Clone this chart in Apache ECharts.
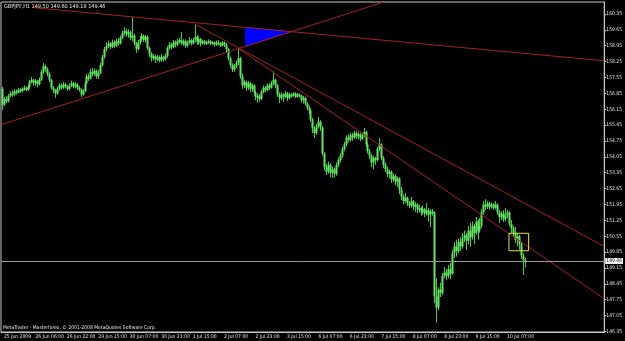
<!DOCTYPE html>
<html>
<head>
<meta charset="utf-8">
<title>GBPJPY,H1</title>
<script src="https://cdn.jsdelivr.net/npm/echarts@6/dist/echarts.min.js"></script>
<style>
  html, body { margin: 0; padding: 0; background: #000; }
  #chart { width: 625px; height: 341px; }
</style>
</head>
<body>
<div id="chart"></div>
<script>
// date labels under the x axis, one every 16 hourly bars
const tickLabels = ['25 Jun 2009', '26 Jun 06:00', '26 Jun 22:00', '29 Jun 15:00', '30 Jun 07:00',
  '30 Jun 23:00', '1 Jul 15:00', '2 Jul 07:00', '2 Jul 23:00', '3 Jul 15:00', '6 Jul 07:00',
  '6 Jul 23:00', '7 Jul 15:00', '8 Jul 07:00', '8 Jul 23:00', '9 Jul 15:00', '10 Jul 07:00']
const labelEvery = 16
const slotCount = 307 // bars + empty shift space on the right

// price scale labels on the right
const priceTicks = [160.35, 159.65, 158.95, 158.25, 157.55, 156.85, 156.15, 155.45, 154.75, 154.05,
  153.35, 152.65, 151.95, 151.25, 150.55, 149.85, 149.15, 148.45, 147.75, 147.05, 146.35]

const opens = [
  157.05, 156.35, 156.60, 156.50, 156.75, 156.85, 156.80, 156.95, 156.88, 157.02,
  156.95, 157.05, 157.10, 157.00, 157.15, 157.35, 157.45, 157.30, 157.40, 157.25,
  157.45, 157.80, 158.05, 157.90, 157.70, 157.45, 157.10, 157.00, 156.85, 157.05,
  157.20, 157.10, 157.25, 157.15, 157.05, 157.20, 157.30, 157.15, 157.25, 157.10,
  157.00, 156.80, 156.95, 157.30, 157.60, 157.50, 157.80, 157.70, 157.85, 157.60,
  157.75, 158.10, 158.45, 158.80, 158.95, 159.05, 158.90, 159.10, 158.95, 159.15,
  159.05, 159.30, 159.50, 159.60, 159.45, 159.55, 159.30, 159.40, 159.05, 158.80,
  159.10, 159.25, 159.40, 159.20, 159.35, 158.85, 158.60, 158.40, 158.50, 158.35,
  158.45, 158.30, 158.45, 158.35, 158.50, 158.85, 159.00, 158.90, 159.10, 159.00,
  159.15, 159.20, 159.05, 159.15, 158.95, 159.10, 159.20, 159.05, 159.20, 159.35,
  159.10, 159.25, 159.05, 159.15, 159.05, 159.10, 159.15, 159.05, 159.10, 159.00,
  159.10, 159.05, 158.95, 159.10, 159.00, 158.80, 158.40, 158.10, 157.90, 158.05,
  158.20, 158.40, 157.60, 157.20, 157.35, 157.10, 157.30, 157.05, 157.20, 156.90,
  156.70, 156.75, 156.60, 156.90, 157.10, 157.00, 157.20, 157.10, 157.30, 157.45,
  157.20, 156.80, 156.65, 156.80, 156.70, 156.85, 156.65, 156.80, 156.75, 156.85,
  156.70, 156.80, 156.75, 156.55, 156.65, 156.40, 156.20, 156.10, 155.70, 155.30,
  155.10, 155.40, 155.60, 155.35, 154.20, 153.60, 153.40, 153.70, 153.35, 153.50,
  153.30, 153.70, 153.90, 154.10, 154.40, 154.60, 154.90, 154.80, 155.00, 154.90,
  155.10, 154.95, 155.05, 154.85, 155.00, 155.15, 154.60, 154.30, 154.10, 153.80,
  154.00, 153.90, 154.40, 154.60, 154.00, 153.70, 153.50, 153.30, 153.40, 153.05,
  153.20, 152.95, 153.10, 152.60, 152.30, 152.10, 152.25, 152.00, 151.90, 152.10,
  151.85, 151.95, 151.75, 151.80, 151.60, 151.75, 151.55, 151.70, 151.50, 151.65,
  151.60, 147.90, 147.40, 148.20, 148.05, 148.80, 148.95, 148.80, 149.10, 148.90,
  149.80, 150.10, 149.90, 150.30, 150.10, 150.45, 150.60, 150.35, 150.80, 150.50,
  151.00, 150.70, 151.20, 150.80, 151.00, 151.60, 151.95, 151.85, 152.00, 151.85,
  151.95, 151.80, 151.95, 151.60, 151.40, 151.55, 151.30, 151.50, 151.60, 151.10,
  150.90, 150.70, 150.40, 150.55, 150.20, 149.70, 149.50
]
const closes = [
  156.35, 156.60, 156.50, 156.75, 156.85, 156.80, 156.95, 156.88, 157.02, 156.95,
  157.05, 157.10, 157.00, 157.15, 157.35, 157.45, 157.30, 157.40, 157.25, 157.45,
  157.80, 158.05, 157.90, 157.70, 157.45, 157.10, 157.00, 156.85, 157.05, 157.20,
  157.10, 157.25, 157.15, 157.05, 157.20, 157.30, 157.15, 157.25, 157.10, 157.00,
  156.80, 156.95, 157.30, 157.60, 157.50, 157.80, 157.70, 157.85, 157.60, 157.75,
  158.10, 158.45, 158.80, 158.95, 159.05, 158.90, 159.10, 158.95, 159.15, 159.05,
  159.30, 159.50, 159.60, 159.45, 159.55, 159.30, 159.40, 159.05, 158.80, 159.10,
  159.25, 159.40, 159.20, 159.35, 158.85, 158.60, 158.40, 158.50, 158.35, 158.45,
  158.30, 158.45, 158.35, 158.50, 158.85, 159.00, 158.90, 159.10, 159.00, 159.15,
  159.20, 159.05, 159.15, 158.95, 159.10, 159.20, 159.05, 159.20, 159.35, 159.10,
  159.25, 159.05, 159.15, 159.05, 159.10, 159.15, 159.05, 159.10, 159.00, 159.10,
  159.05, 158.95, 159.10, 159.00, 158.80, 158.40, 158.10, 157.90, 158.05, 158.20,
  158.40, 157.60, 157.20, 157.35, 157.10, 157.30, 157.05, 157.20, 156.90, 156.70,
  156.75, 156.60, 156.90, 157.10, 157.00, 157.20, 157.10, 157.30, 157.45, 157.20,
  156.80, 156.65, 156.80, 156.70, 156.85, 156.65, 156.80, 156.75, 156.85, 156.70,
  156.80, 156.75, 156.55, 156.65, 156.40, 156.20, 156.10, 155.70, 155.30, 155.10,
  155.40, 155.60, 155.35, 154.20, 153.60, 153.40, 153.70, 153.35, 153.50, 153.30,
  153.70, 153.90, 154.10, 154.40, 154.60, 154.90, 154.80, 155.00, 154.90, 155.10,
  154.95, 155.05, 154.85, 155.00, 155.15, 154.60, 154.30, 154.10, 153.80, 154.00,
  153.90, 154.40, 154.60, 154.00, 153.70, 153.50, 153.30, 153.40, 153.05, 153.20,
  152.95, 153.10, 152.60, 152.30, 152.10, 152.25, 152.00, 151.90, 152.10, 151.85,
  151.95, 151.75, 151.80, 151.60, 151.75, 151.55, 151.70, 151.50, 151.65, 151.60,
  147.90, 147.40, 148.20, 148.05, 148.80, 148.95, 148.80, 149.10, 148.90, 149.80,
  150.10, 149.90, 150.30, 150.10, 150.45, 150.60, 150.35, 150.80, 150.50, 151.00,
  150.70, 151.20, 150.80, 151.00, 151.60, 151.95, 151.85, 152.00, 151.85, 151.95,
  151.80, 151.95, 151.60, 151.40, 151.55, 151.30, 151.50, 151.60, 151.10, 150.90,
  150.70, 150.40, 150.55, 150.20, 149.70, 149.50, 149.46
]
const lows = [
  156.12, 156.28, 156.42, 156.45, 156.68, 156.70, 156.74, 156.80, 156.84, 156.88,
  156.90, 156.98, 156.94, 156.96, 157.08, 157.28, 157.20, 157.18, 157.12, 157.20,
  157.40, 157.72, 157.80, 157.60, 157.35, 157.02, 156.85, 156.66, 156.78, 156.98,
  157.00, 157.04, 157.06, 156.96, 156.98, 157.12, 157.08, 157.06, 157.00, 156.92,
  156.69, 156.74, 156.90, 157.24, 157.40, 157.46, 157.58, 157.62, 157.50, 157.48,
  157.70, 158.02, 158.38, 158.70, 158.85, 158.78, 158.84, 158.86, 158.90, 158.96,
  159.00, 159.24, 159.40, 159.34, 159.30, 159.20, 159.15, 158.95, 158.63, 158.74,
  159.00, 159.15, 159.10, 159.08, 158.75, 158.45, 158.25, 158.30, 158.19, 158.28,
  158.22, 158.24, 158.25, 158.30, 158.42, 158.78, 158.80, 158.84, 158.88, 158.94,
  159.05, 158.98, 158.95, 158.86, 158.88, 159.02, 158.96, 159.00, 159.12, 158.98,
  159.00, 158.92, 159.00, 158.98, 159.00, 159.04, 158.98, 159.00, 158.92, 158.94,
  158.96, 158.90, 158.92, 158.90, 158.63, 158.30, 157.98, 157.79, 157.80, 157.96,
  158.10, 157.50, 157.05, 157.10, 156.95, 157.00, 156.90, 156.92, 156.80, 156.55,
  156.43, 156.48, 156.56, 156.84, 156.90, 156.95, 157.00, 157.05, 157.22, 157.08,
  156.70, 156.43, 156.55, 156.48, 156.62, 156.50, 156.58, 156.66, 156.70, 156.65,
  156.66, 156.68, 156.45, 156.40, 156.30, 156.10, 155.95, 155.60, 155.10, 154.88,
  155.02, 155.30, 155.20, 154.10, 153.45, 153.25, 153.30, 153.15, 153.12, 153.14,
  153.22, 153.60, 153.80, 154.00, 154.30, 154.52, 154.68, 154.72, 154.76, 154.84,
  154.85, 154.82, 154.74, 154.78, 154.92, 154.50, 154.20, 153.95, 153.60, 153.50,
  153.70, 153.85, 154.30, 153.90, 153.55, 153.38, 153.16, 153.10, 152.90, 152.95,
  152.80, 152.72, 152.40, 152.15, 151.95, 152.00, 151.88, 151.80, 151.82, 151.70,
  151.62, 151.58, 151.60, 151.45, 151.50, 151.40, 151.45, 151.20, 150.96, 151.45,
  147.60, 146.73, 147.30, 147.87, 147.95, 148.70, 148.62, 148.70, 148.65, 148.85,
  149.60, 149.64, 149.80, 149.90, 150.00, 150.30, 149.95, 150.20, 150.08, 150.40,
  150.20, 150.60, 150.39, 150.70, 150.90, 151.50, 151.70, 151.75, 151.72, 151.76,
  151.71, 151.74, 151.50, 151.14, 151.25, 151.18, 151.20, 151.35, 150.98, 150.69,
  150.50, 150.25, 150.10, 149.95, 149.55, 148.84, 149.18
]
const highs = [
  157.13, 156.70, 156.72, 156.82, 156.95, 156.98, 157.04, 157.02, 157.10, 157.08,
  157.12, 157.20, 157.15, 157.22, 157.45, 157.57, 157.50, 157.48, 157.44, 157.55,
  157.90, 158.19, 158.12, 158.00, 157.78, 157.50, 157.18, 157.05, 157.15, 157.30,
  157.28, 157.36, 157.32, 157.22, 157.30, 157.42, 157.36, 157.34, 157.30, 157.18,
  157.06, 157.04, 157.38, 157.70, 157.72, 157.92, 157.97, 157.95, 157.90, 157.88,
  158.20, 158.55, 158.90, 159.10, 159.18, 159.12, 159.22, 159.18, 159.26, 159.30,
  159.40, 159.62, 159.78, 159.70, 159.68, 159.62, 160.22, 159.48, 159.12, 159.20,
  159.36, 159.51, 159.46, 159.42, 159.40, 158.92, 158.66, 158.60, 158.56, 158.55,
  158.52, 158.58, 158.52, 158.62, 158.94, 159.11, 159.08, 159.20, 159.18, 159.26,
  159.30, 159.56, 159.24, 159.22, 159.18, 159.34, 159.26, 159.30, 159.91, 159.42,
  159.36, 159.30, 159.22, 159.20, 159.18, 159.24, 159.20, 159.16, 159.14, 159.18,
  159.20, 159.12, 159.16, 159.14, 159.07, 158.86, 158.46, 158.18, 158.15, 158.30,
  158.85, 158.46, 157.72, 157.45, 157.40, 157.40, 157.36, 157.28, 157.25, 156.98,
  156.85, 156.82, 157.00, 157.20, 157.18, 157.30, 157.28, 157.40, 157.81, 157.50,
  157.26, 156.90, 156.90, 156.86, 156.95, 156.92, 156.88, 156.86, 156.90, 156.90,
  156.87, 156.86, 156.80, 156.74, 156.70, 156.46, 156.30, 156.20, 155.78, 155.40,
  155.50, 155.81, 155.66, 155.40, 154.25, 153.75, 153.85, 153.78, 153.62, 153.58,
  153.80, 154.02, 154.22, 154.50, 154.72, 155.00, 155.05, 155.12, 155.10, 155.20,
  155.18, 155.14, 155.10, 155.12, 155.32, 155.20, 154.70, 154.40, 154.18, 154.10,
  154.05, 154.50, 154.88, 154.66, 154.08, 153.80, 153.60, 153.47, 153.45, 153.30,
  153.28, 153.18, 153.15, 152.72, 152.40, 152.46, 152.30, 152.10, 152.28, 152.15,
  152.05, 152.00, 151.95, 151.85, 151.90, 151.80, 152.02, 151.80, 151.75, 151.75,
  151.65, 148.70, 148.30, 148.50, 148.93, 149.20, 149.10, 149.28, 149.37, 149.95,
  150.30, 150.39, 150.45, 150.50, 150.69, 150.80, 150.70, 151.00, 151.14, 151.20,
  151.10, 151.40, 151.30, 151.35, 151.75, 152.10, 152.18, 152.12, 152.08, 152.05,
  152.02, 152.10, 152.00, 151.70, 151.65, 151.70, 151.80, 151.72, 151.65, 151.27,
  151.00, 150.96, 150.65, 150.62, 150.30, 149.80, 149.60
]

const bidPrice = 149.46

// drawn objects, in [bar index, price]
const trendLines = [
  [16, 160.63, 306, 158.29],
  [0, 155.48, 194, 160.87],
  [98, 159.91, 306, 150.12],
  [120, 158.85, 306, 147.82]
]
const triangle = [[124, 159.76], [124, 158.93], [147, 159.57]]
const box = [258, 150.68, 268, 149.91]

const categories = []
for (let i = 0; i < slotCount; i++) categories.push(String(i))

// rows: index, open, close, low, high
const bars = opens.map((o, i) => [i, o, closes[i], lows[i], highs[i]])

const smallFont = "'Liberation Sans Narrow', 'DejaVu Sans Condensed', 'Liberation Sans', sans-serif"
const frameColor = '#c8c8c8'
const lineRed = '#a82020'
const barGreen = '#3fcf3f'
const bodyGreen = '#66e466'

const chart = echarts.init(document.getElementById('chart'))
chart.setOption({
  backgroundColor: '#000',
  animation: false,
  title: [
    {
      text: 'GBPJPY,H1 149.50 149.60 149.18 149.46',
      left: 4,
      top: 4,
      padding: 0,
      textStyle: { color: '#e8e8e8', fontSize: 5.5, fontWeight: 'normal', fontFamily: smallFont }
    },
    {
      text: 'MetaTrader - Masterforex, © 2001-2008 MetaQuotes Software Corp.',
      left: 3,
      top: 325,
      padding: 0,
      textStyle: { color: '#e8e8e8', fontSize: 5, fontWeight: 'normal', fontFamily: smallFont }
    }
  ],
  grid: {
    left: 1,
    right: 19,
    top: 2,
    bottom: 9,
    show: true,
    borderColor: frameColor,
    borderWidth: 1,
    backgroundColor: '#000'
  },
  xAxis: {
    type: 'category',
    data: categories,
    boundaryGap: true,
    axisLine: { lineStyle: { color: frameColor, width: 1 } },
    axisTick: {
      alignWithLabel: true,
      interval: (i) => i % labelEvery === 0,
      length: 4,
      lineStyle: { color: frameColor }
    },
    axisLabel: {
      interval: (i) => i % labelEvery === 0 && i / labelEvery < tickLabels.length,
      formatter: (v, i) => tickLabels[i / labelEvery] || '',
      align: 'left',
      margin: 2,
      padding: [0, 0, 0, 2],
      color: '#e0e0e0',
      fontSize: 5,
      fontFamily: smallFont,
      showMinLabel: true,
      hideOverlap: false
    },
    splitLine: { show: false }
  },
  yAxis: {
    type: 'value',
    position: 'right',
    min: 146.327,
    max: 160.879,
    scale: true,
    axisLine: { show: true, lineStyle: { color: frameColor, width: 1 } },
    axisTick: {
      show: true,
      customValues: priceTicks,
      length: 2,
      lineStyle: { color: frameColor }
    },
    axisLabel: {
      customValues: priceTicks,
      formatter: (v) => v.toFixed(2),
      margin: 2,
      color: '#e0e0e0',
      fontSize: 5,
      fontFamily: smallFont,
      showMinLabel: true,
      showMaxLabel: true
    },
    splitLine: { show: false }
  },
  series: [
    {
      // OHLC bars drawn as thin green sticks, like the terminal
      type: 'custom',
      data: bars,
      clip: true,
      encode: { x: 0, y: [1, 2, 3, 4] },
      renderItem: (params, api) => {
        const hi = api.coord([api.value(0), api.value(4)])
        const lo = api.coord([api.value(0), api.value(3)])
        const op = api.coord([api.value(0), api.value(1)])
        const cl = api.coord([api.value(0), api.value(2)])
        const x = Math.round(hi[0])
        const top = Math.min(op[1], cl[1])
        const h = Math.max(Math.abs(op[1] - cl[1]), 2)
        return {
          type: 'group',
          children: [
            {
              type: 'rect',
              shape: { x: x, y: hi[1], width: 1, height: lo[1] - hi[1] },
              style: { fill: barGreen }
            },
            {
              type: 'rect',
              shape: { x: x - 0.5, y: top, width: 2, height: h },
              style: { fill: bodyGreen }
            }
          ]
        }
      },
      markLine: {
        silent: true,
        symbol: 'none',
        lineStyle: { color: '#9a9a9a', type: 'solid', width: 1 },
        label: {
          position: 'end',
          distance: 1,
          formatter: bidPrice.toFixed(2),
          backgroundColor: '#fff',
          color: '#000',
          fontSize: 5,
          fontFamily: smallFont,
          padding: [1, 1, 0, 1]
        },
        data: [{ yAxis: bidPrice }]
      },
      z: 2
    },
    {
      type: 'custom',
      silent: true,
      data: [triangle.flat()],
      encode: { x: [0, 2, 4], y: [1, 3, 5] },
      renderItem: (params, api) => {
        const pts = [0, 1, 2].map(k => api.coord([api.value(k * 2), api.value(k * 2 + 1)]))
        return {
          type: 'polygon',
          shape: { points: pts },
          style: { fill: '#0000ff', stroke: '#0000ff' }
        }
      },
      z: 3
    },
    {
      type: 'custom',
      silent: true,
      data: trendLines,
      encode: { x: [0, 2], y: [1, 3] },
      renderItem: (params, api) => {
        const a = api.coord([api.value(0), api.value(1)])
        const b = api.coord([api.value(2), api.value(3)])
        return {
          type: 'line',
          shape: { x1: a[0], y1: a[1], x2: b[0], y2: b[1] },
          style: { stroke: lineRed, lineWidth: 1 }
        }
      },
      z: 4
    },
    {
      type: 'custom',
      silent: true,
      data: [box],
      encode: { x: [0, 2], y: [1, 3] },
      renderItem: (params, api) => {
        const a = api.coord([api.value(0), api.value(1)])
        const b = api.coord([api.value(2), api.value(3)])
        return {
          type: 'rect',
          shape: { x: a[0], y: a[1], width: b[0] - a[0], height: b[1] - a[1] },
          style: { fill: 'none', stroke: '#e6e64a', lineWidth: 1 }
        }
      },
      z: 5
    }
  ]
})
</script>
</body>
</html>
